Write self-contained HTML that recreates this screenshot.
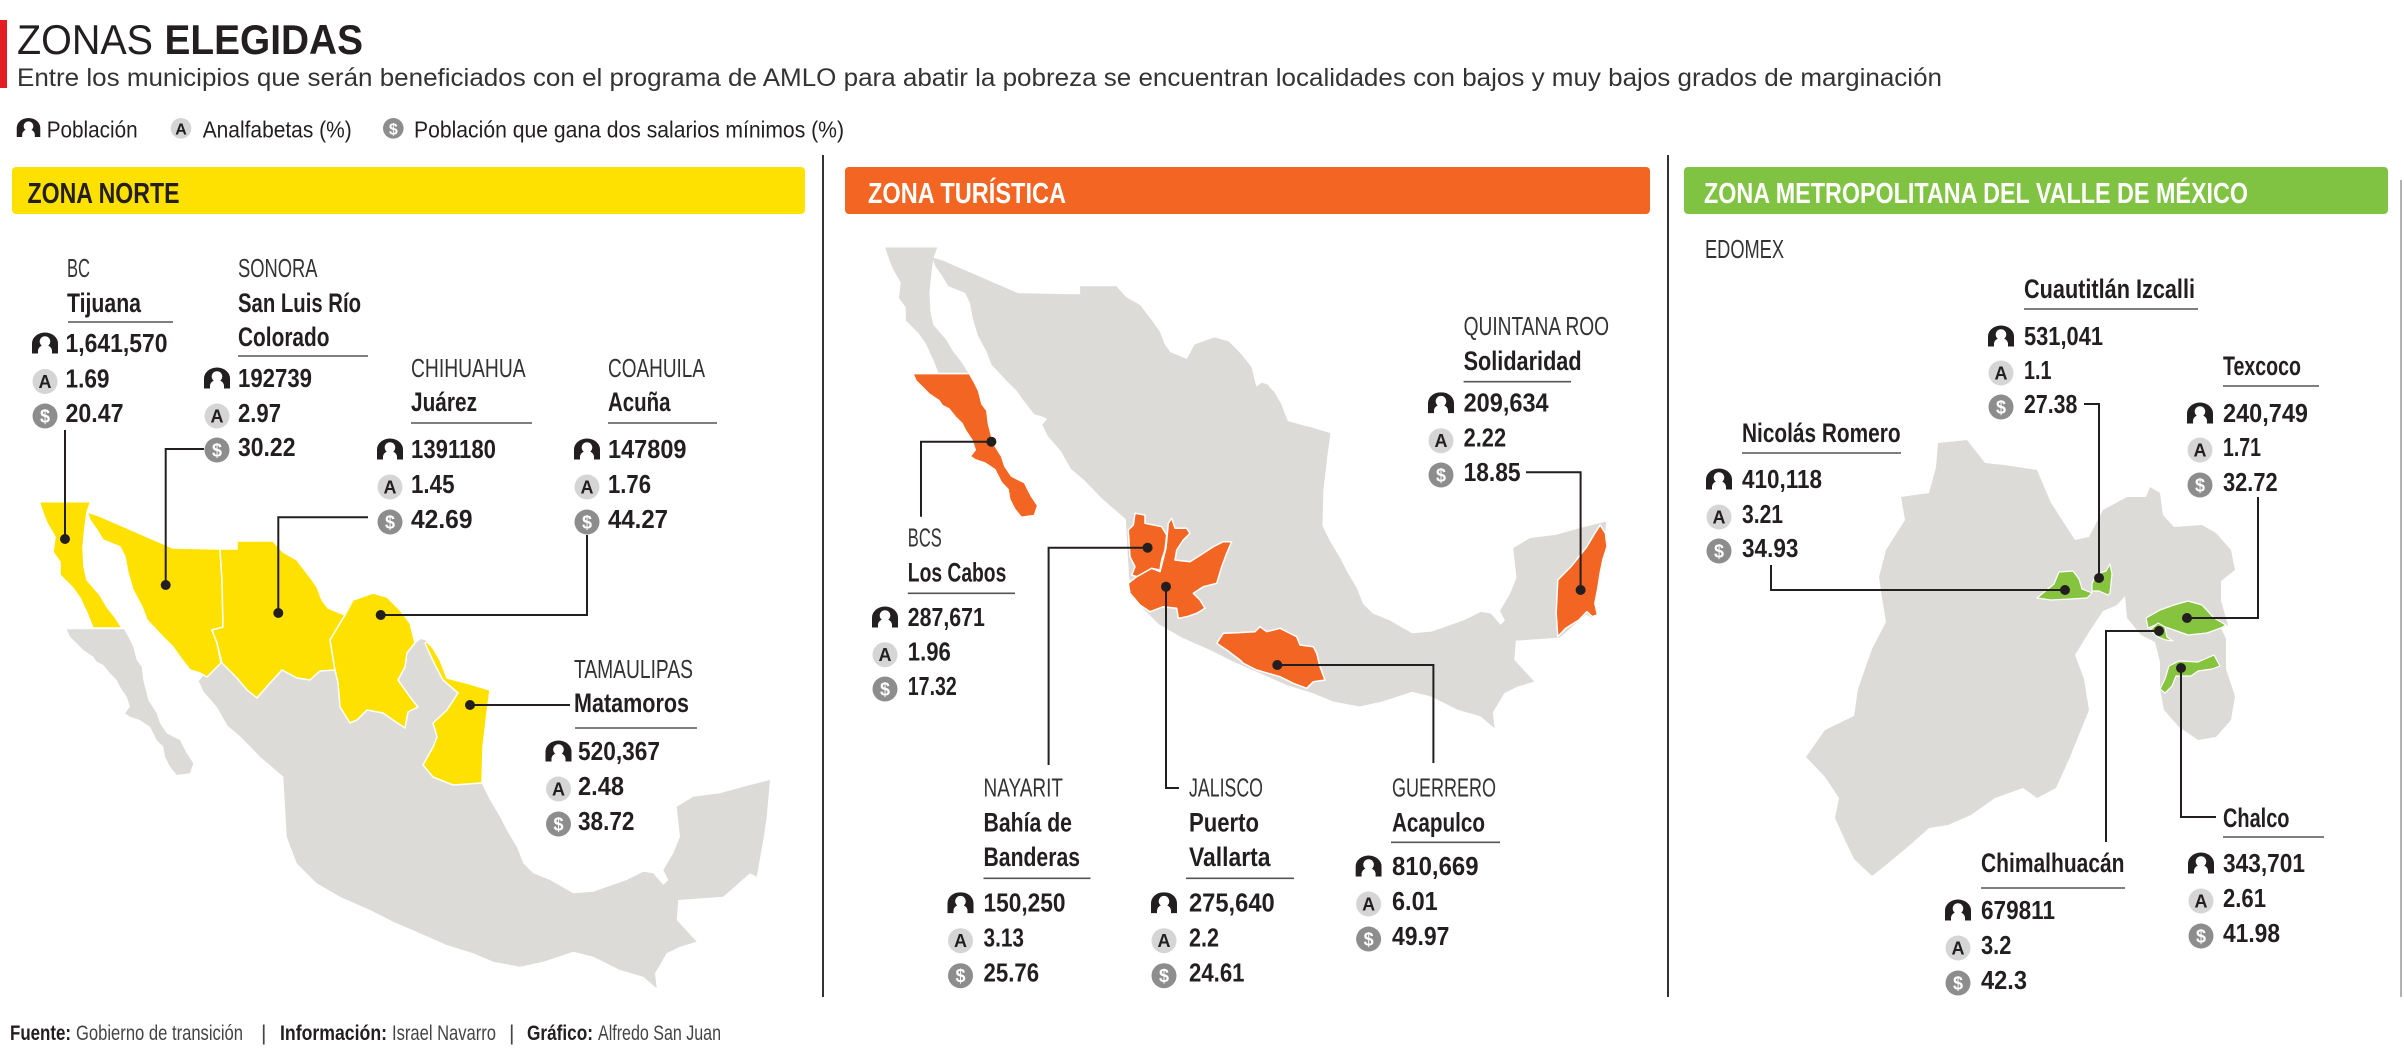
<!DOCTYPE html>
<html><head><meta charset="utf-8">
<style>
html,body{margin:0;padding:0;background:#fff;}
svg{display:block;}
text{font-family:"Liberation Sans",sans-serif;}
.l{font-size:26px;fill:#333;}
.b{font-size:27px;font-weight:bold;fill:#231f20;}
.n{font-size:26px;font-weight:bold;fill:#231f20;}
.ia{font-size:18px;font-weight:bold;fill:#231f20;text-anchor:middle;}
.id{font-size:18px;font-weight:bold;fill:#fff;text-anchor:middle;}
.lg{font-size:23px;fill:#231f20;}
.ft{font-size:21px;fill:#444;}
.ftb{font-size:21px;font-weight:bold;fill:#231f20;}
.hd{font-size:29px;font-weight:bold;}
.ln{stroke:#231f20;stroke-width:2;fill:none;}
.ul{stroke:#555;stroke-width:1.6;}
</style></head>
<body>
<svg width="2404" height="1051" viewBox="0 0 2404 1051" xmlns="http://www.w3.org/2000/svg">
<defs>
<polygon id="ms" points="198.7,681.2 204,692.3 217,707.1 227.5,725.6 240.6,736.8 260,756.7 283.3,776.7 285,806.7 286.7,836.7 296.7,863.3 316.7,883.3 340,896.7 370,910 393.3,921.7 420,933.3 446.7,945 473.3,953.3 493.3,961.7 520,966.7 543.3,961.7 573.3,951.7 593.3,956.7 620,970 643.3,976.7 656.7,988.3 655,973.3 666.7,953.3 680,946.7 696.7,941.7 676.7,920 678.3,900 723.3,896.7 750,873.3 756.7,876.7 763.3,840 766.7,816.7 770,780 743.3,786.7 720,793.3 693.3,796.7 676.7,806.7 680,836.7 673.3,853.3 663.3,870 668.3,880 663.3,885 653.3,873.3 643.3,871.7 626.7,880 593.3,891.7 573.3,893.3 550,880 533.3,873.3 523.3,863.3 516.7,846.7 506.7,830 500,816.7 490,800 481.7,783.3 475,770 470,740 465,700 448,681 438,662 430,647 427,641 421,639 413,645 400,650 370,650 340,650 320,650 260,640 225,650 212,665"/>
<polygon id="bc" points="39.3,501.7 90.7,501.7 87,512 85,527 83,547 84,567 87,580 100,595 107,607 115,617 122,628 93,628 87,613 80,598 72,587 60,575 60,562 53,552 55,537 47,523 43,513"/>
<polygon id="bcs" points="66.7,629.3 124,629.3 128.3,636.7 133.3,646.7 136.7,660 141.7,666.7 143.3,680 146.7,693.3 148.3,700 156.7,713.3 160,723.3 166.7,733.3 173.3,736.7 180,740 183.3,746.7 186.7,753.3 193.3,763.3 190,773.3 176.7,775 170,766.7 165,756.7 163.3,746.7 156.7,740 150,726.7 140,720 130,716.7 125,713.3 130,706.7 126.7,696.7 120,686.7 116.7,680 110,673.3 103.3,665 96.7,661.7 93.3,656.7 83.3,650 76.7,643.3 70,636.7"/>
<polygon id="son" points="87,512 97,515 173,548 220,549 222,580 223,627 212,630 217,643 221,663 207,677 200,673 190,670 180,657 173,647 163,637 147,620 142,607 133,590 128,573 125,557 120,547 103,540 97,530 90,520"/>
<polygon id="chi" points="220,549 237,549 237,541 273,541 283,552 297,560 310,577 317,587 322,600 328,608 345,615 330,640 335,670 320,671 310,680 297,678 282,670 270,683 257,698 247,690 237,678 222,663 217,643 212,630 223,627 222,580"/>
<polygon id="coa" points="345,615 353,600 373,593 387,597 400,610 410,623 415,643 407,653 405,667 398,680 410,697 418,707 408,712 405,728 393,720 383,713 367,710 357,720 350,723 340,707 338,683 335,670 330,640"/>
<polygon id="tam" points="427,642 433,648 440,660 447,678 470,684 490,690 487,713 483,747 482,783 453,785 433,777 423,765 433,747 437,737 433,723 447,710 458,693 443,680 435,665 428,650 425,643"/>
<symbol id="pp" viewBox="0 0 26 21"><path d="M0,21 V11 A13,11 0 0 1 26,11 V21 H20 V18.5 A7,6 0 0 0 6,18.5 V21 Z" fill="#231f20"/><circle cx="13" cy="9" r="5.3" fill="#fff"/></symbol>
</defs>

<!-- Title -->
<rect x="0" y="20" width="7" height="68" fill="#e31e24"/>
<text x="17" y="54" style="font-size:42px;fill:#231f20" textLength="136" lengthAdjust="spacingAndGlyphs">ZONAS</text>
<text x="164.5" y="54" style="font-size:42px;font-weight:bold;fill:#231f20" textLength="198.5" lengthAdjust="spacingAndGlyphs">ELEGIDAS</text>
<text x="17" y="86" style="font-size:25px;fill:#333" textLength="1925" lengthAdjust="spacingAndGlyphs">Entre los municipios que serán beneficiados con el programa de AMLO para abatir la pobreza se encuentran localidades con bajos y muy bajos grados de marginación</text>

<!-- Legend -->
<use href="#pp" x="15" y="118" width="27" height="19"/>
<text class="lg" x="46.7" y="137.7" textLength="91" lengthAdjust="spacingAndGlyphs">Población</text>
<circle cx="181" cy="128.3" r="10.3" fill="#d5d5d5"/><text x="181" y="134.5" style="font-size:16px;font-weight:bold;fill:#231f20;text-anchor:middle">A</text>
<text class="lg" x="202.7" y="137.7" textLength="149" lengthAdjust="spacingAndGlyphs">Analfabetas (%)</text>
<circle cx="393.3" cy="128.3" r="10.3" fill="#8d8d8d"/><text x="393.3" y="134.5" style="font-size:16px;font-weight:bold;fill:#fff;text-anchor:middle">$</text>
<text class="lg" x="414" y="137.7" textLength="430" lengthAdjust="spacingAndGlyphs">Población que gana dos salarios mínimos (%)</text>

<!-- Dividers -->
<line x1="823" y1="155" x2="823" y2="997" stroke="#333" stroke-width="2"/>
<line x1="1668" y1="155" x2="1668" y2="997" stroke="#333" stroke-width="2"/>
<line x1="2401" y1="180" x2="2401" y2="997" stroke="#999" stroke-width="1.5"/>

<!-- Headers -->
<rect x="12" y="167" width="793" height="47" rx="4" fill="#ffe100"/>
<text class="hd" x="27.5" y="203" fill="#231f20" textLength="152" lengthAdjust="spacingAndGlyphs">ZONA NORTE</text>
<rect x="845" y="167" width="805" height="47" rx="4" fill="#f26522"/>
<text class="hd" x="868" y="203" fill="#fff" textLength="198" lengthAdjust="spacingAndGlyphs">ZONA TURÍSTICA</text>
<rect x="1684" y="167" width="704" height="47" rx="4" fill="#80c342"/>
<text class="hd" x="1704" y="203" fill="#fff" textLength="544" lengthAdjust="spacingAndGlyphs">ZONA METROPOLITANA DEL VALLE DE MÉXICO</text>

<!-- ===== Panel 1 map ===== -->
<g fill="#dddbd8"><use href="#ms"/><use href="#bcs"/></g>
<g fill="#ffe100" stroke="#fff" stroke-width="1.5" stroke-linejoin="round">
<use href="#bc"/><use href="#son"/><use href="#chi"/><use href="#coa"/><use href="#tam"/>
</g>

<!-- ===== Panel 2 map ===== -->
<g transform="translate(847.2,-246.2) scale(0.985)">
<g fill="#dddbd8" stroke="#dddbd8" stroke-width="1"><use href="#ms"/><use href="#bc"/><use href="#son"/><use href="#chi"/><use href="#coa"/><use href="#tam"/></g>
<use href="#bcs" fill="#f26522" stroke="#fff" stroke-width="1.5"/>
</g>
<g fill="#f26522" stroke="#fff" stroke-width="1.5" stroke-linejoin="round">
<polygon points="1135,513.3 1145,515 1145,523.3 1161.7,526.7 1166.7,535 1165,550 1161.7,560 1160,570 1151.7,568.3 1146.7,571.7 1136.7,576.7 1131.7,575 1135,566.7 1130,556.7 1128.3,530 1133.3,525"/>
<polygon points="1160,571.7 1163,560 1166,548 1168.3,523.3 1171.7,518.3 1175,528.3 1186.7,528.3 1190,533.3 1183.3,540 1176.7,550 1175,560 1190,561.7 1203.3,553.3 1213.3,546.7 1223.3,541.7 1231.7,541.7 1226.7,553.3 1221.7,566.7 1216.7,583.3 1203.3,586.7 1193.3,593.3 1200,600 1205,608.3 1196.7,613.3 1186.7,616.7 1178.3,618.3 1176.7,608.3 1163.3,606.7 1150,611.7 1140,605 1130,593.3 1128.3,583.3 1136.7,576.7 1151.7,568.3"/>
<polygon points="1216.7,643.3 1223.3,633.3 1236.7,632.7 1255,631.7 1260,626.7 1266.7,631.7 1280,628.3 1296.7,636.7 1300,645 1313.3,646.7 1316.7,653.3 1320,666.7 1325,680 1313.3,681.7 1306.7,688.3 1293.3,683.3 1280,676.7 1256.7,670 1243.3,663.3 1240,660 1226.7,650"/>
</g>
<g transform="translate(830,220) scale(0.5293,0.3333)" fill="#f26522" stroke="#fff" stroke-width="1.5" stroke-linejoin="round">
<polygon vector-effect="non-scaling-stroke" points="1455,915 1465,940 1468,980 1460,1020 1455,1060 1450,1110 1445,1150 1450,1185 1440,1190 1430,1175 1415,1200 1390,1225 1375,1250 1372,1180 1375,1080 1400,1040 1430,980 1445,940"/>
</g>

<!-- ===== Panel 3 map ===== -->
<polygon fill="#dddbd8" points="1938,443 1967,440 1985,463 2004,465 2037,470 2051,503 2075,540 2089,537 2103,510 2127,497 2146,497 2150,487 2160,493 2163,515 2174,527 2202,525 2216,533 2231,550 2235,570 2221,581 2221,601 2228,625 2221,628 2226,639 2226,669 2235,696 2231,720 2216,737 2198,740 2179,727 2164,710 2160,689 2160,662 2155,642 2141,635 2127,618 2125,596 2117,605 2103,611 2089,632 2075,655 2084,679 2089,710 2070,757 2056,788 2037,798 2023,788 1995,798 1971,815 1948,825 1929,828 1910,845 1886,865 1872,876 1854,859 1844,838 1835,818 1839,798 1825,777 1806,757 1825,730 1854,716 1858,689 1872,649 1886,622 1882,598 1879,577 1886,550 1905,520 1901,497 1929,493 1936,467"/>
<g fill="#86c440" stroke="#fff" stroke-width="1.2" stroke-linejoin="round">
<polygon points="2037,598 2054,584 2059,572 2073,571 2079,579 2082,589 2092,593 2087,598 2070,599 2051,600"/>
<polygon points="2092,584 2096,574 2106,571 2110,564 2112,574 2110,593 2108,595 2099,591 2092,591"/>
<polygon points="2146,618 2160,610 2174,605 2188,601 2202,605 2214,618 2226,625 2221,628 2207,633 2188,635 2174,630 2165,627 2155,625 2148,628"/>
<polygon points="2150,630 2158,623 2165,627 2167,637 2173,641 2166,640 2158,637"/>
<polygon points="2160,689 2165,679 2169,666 2179,661 2198,662 2214,655 2220,666 2212,669 2198,671 2191,676 2176,676 2172,686 2165,693"/>
</g>

<!-- ===== Leader lines & dots ===== -->
<g class="ln">
<polyline points="65,430 65,539"/>
<polyline points="204,449 165.7,449 165.7,585"/>
<polyline points="368,517.3 278.3,517.3 278.3,613"/>
<polyline points="587,535 587,615 380.7,615"/>
<polyline points="470,705 570,705"/>
<polyline points="991.4,441.7 921,441.7 921,516.7"/>
<polyline points="1147.6,547.7 1048.6,547.7 1048.6,765"/>
<polyline points="1166,586.7 1166,788 1179,788"/>
<polyline points="1277.3,665 1433.4,665 1433.4,763"/>
<polyline points="1526,472.3 1580.6,472.3 1580.6,590"/>
<polyline points="2084,404 2099,404 2099,578"/>
<polyline points="2258,497 2258,618 2187,618"/>
<polyline points="1771,565 1771,590 2065,590"/>
<polyline points="2159,631 2106,631 2106,842"/>
<polyline points="2181,668 2181,817 2216,817"/>
</g>
<g fill="#231f20">
<circle cx="65" cy="539" r="5"/><circle cx="165.7" cy="585" r="5"/><circle cx="278.3" cy="613" r="5"/><circle cx="380.7" cy="615" r="5"/><circle cx="470" cy="705" r="5"/>
<circle cx="991.4" cy="441.7" r="5"/><circle cx="1147.6" cy="547.7" r="5"/><circle cx="1166" cy="586.7" r="5"/><circle cx="1277.3" cy="665" r="5"/><circle cx="1580.6" cy="590" r="5"/>
<circle cx="2099" cy="578" r="5"/><circle cx="2187" cy="618" r="5"/><circle cx="2065" cy="590" r="5"/><circle cx="2159" cy="631" r="5"/><circle cx="2181" cy="668" r="5"/>
</g>

<!-- ===== Labels Panel 1 ===== -->
<text class="l" x="67" y="277" textLength="23" lengthAdjust="spacingAndGlyphs">BC</text>
<text class="b" x="67" y="312" textLength="74" lengthAdjust="spacingAndGlyphs">Tijuana</text>
<line class="ul" x1="68" y1="322" x2="173" y2="322"/>
<text class="l" x="238" y="277" textLength="79.5" lengthAdjust="spacingAndGlyphs">SONORA</text>
<text class="b" x="238" y="312" textLength="123" lengthAdjust="spacingAndGlyphs">San Luis Río</text>
<text class="b" x="238" y="346" textLength="91.5" lengthAdjust="spacingAndGlyphs">Colorado</text>
<line class="ul" x1="238" y1="356" x2="368" y2="356"/>
<text class="l" x="411" y="377" textLength="114.6" lengthAdjust="spacingAndGlyphs">CHIHUAHUA</text>
<text class="b" x="411" y="411" textLength="66" lengthAdjust="spacingAndGlyphs">Juárez</text>
<line class="ul" x1="411" y1="423" x2="532" y2="423"/>
<text class="l" x="608" y="377" textLength="97" lengthAdjust="spacingAndGlyphs">COAHUILA</text>
<text class="b" x="608" y="411" textLength="62.5" lengthAdjust="spacingAndGlyphs">Acuña</text>
<line class="ul" x1="608" y1="423" x2="717" y2="423"/>
<text class="l" x="574" y="678" textLength="119" lengthAdjust="spacingAndGlyphs">TAMAULIPAS</text>
<text class="b" x="574" y="712" textLength="115" lengthAdjust="spacingAndGlyphs">Matamoros</text>
<line class="ul" x1="575" y1="728" x2="697" y2="728"/>

<!-- ===== Labels Panel 2 ===== -->
<text class="l" x="1463.6" y="335" textLength="145.5" lengthAdjust="spacingAndGlyphs">QUINTANA ROO</text>
<text class="b" x="1463.6" y="370" textLength="118" lengthAdjust="spacingAndGlyphs">Solidaridad</text>
<line class="ul" x1="1463.6" y1="381.7" x2="1571" y2="381.7"/>
<text class="l" x="907.8" y="546.7" textLength="34" lengthAdjust="spacingAndGlyphs">BCS</text>
<text class="b" x="907.8" y="581.7" textLength="98.5" lengthAdjust="spacingAndGlyphs">Los Cabos</text>
<line class="ul" x1="907.8" y1="593.3" x2="1015" y2="593.3"/>
<text class="l" x="983.5" y="796.7" textLength="79.5" lengthAdjust="spacingAndGlyphs">NAYARIT</text>
<text class="b" x="983.5" y="831.7" textLength="88.5" lengthAdjust="spacingAndGlyphs">Bahía de</text>
<text class="b" x="983.5" y="866" textLength="96.5" lengthAdjust="spacingAndGlyphs">Banderas</text>
<line class="ul" x1="983.5" y1="878.3" x2="1090.5" y2="878.3"/>
<text class="l" x="1189" y="796.7" textLength="74" lengthAdjust="spacingAndGlyphs">JALISCO</text>
<text class="b" x="1189" y="831.7" textLength="70" lengthAdjust="spacingAndGlyphs">Puerto</text>
<text class="b" x="1189" y="866" textLength="81.5" lengthAdjust="spacingAndGlyphs">Vallarta</text>
<line class="ul" x1="1186" y1="878.3" x2="1294" y2="878.3"/>
<text class="l" x="1392" y="796.7" textLength="104" lengthAdjust="spacingAndGlyphs">GUERRERO</text>
<text class="b" x="1392" y="831.7" textLength="93" lengthAdjust="spacingAndGlyphs">Acapulco</text>
<line class="ul" x1="1391" y1="842.3" x2="1500" y2="842.3"/>

<!-- ===== Labels Panel 3 ===== -->
<text class="l" x="1705" y="258" textLength="79" lengthAdjust="spacingAndGlyphs">EDOMEX</text>
<text class="b" x="2024" y="298" textLength="171" lengthAdjust="spacingAndGlyphs">Cuautitlán Izcalli</text>
<line class="ul" x1="2024" y1="309" x2="2198" y2="309"/>
<text class="b" x="2223" y="375" textLength="78" lengthAdjust="spacingAndGlyphs">Texcoco</text>
<line class="ul" x1="2223" y1="386" x2="2319" y2="386"/>
<text class="b" x="1742" y="442" textLength="158.6" lengthAdjust="spacingAndGlyphs">Nicolás Romero</text>
<line class="ul" x1="1742" y1="453" x2="1901" y2="453"/>
<text class="b" x="1981" y="872" textLength="143.5" lengthAdjust="spacingAndGlyphs">Chimalhuacán</text>
<line class="ul" x1="1981" y1="888" x2="2125" y2="888"/>
<text class="b" x="2223" y="827" textLength="66.5" lengthAdjust="spacingAndGlyphs">Chalco</text>
<line class="ul" x1="2223" y1="837" x2="2324" y2="837"/>

<!-- ===== Data blocks ===== -->
<!-- Tijuana -->
<use href="#pp" x="32" y="332.5" width="26" height="21"/>
<text class="n" x="65.5" y="352" textLength="102" lengthAdjust="spacingAndGlyphs">1,641,570</text>
<circle cx="45" cy="381.5" r="12.5" fill="#d5d5d5"/><text class="ia" x="45" y="388">A</text>
<text class="n" x="65.5" y="387.5" textLength="44" lengthAdjust="spacingAndGlyphs">1.69</text>
<circle cx="45" cy="416" r="12.5" fill="#8d8d8d"/><text class="id" x="45" y="422.5">$</text>
<text class="n" x="65.5" y="422" textLength="58" lengthAdjust="spacingAndGlyphs">20.47</text>
<!-- SLR Colorado -->
<use href="#pp" x="204" y="367.5" width="26" height="21"/>
<text class="n" x="238" y="387" textLength="74" lengthAdjust="spacingAndGlyphs">192739</text>
<circle cx="217" cy="416" r="12.5" fill="#d5d5d5"/><text class="ia" x="217" y="422.5">A</text>
<text class="n" x="238" y="422" textLength="43" lengthAdjust="spacingAndGlyphs">2.97</text>
<circle cx="217" cy="450" r="12.5" fill="#8d8d8d"/><text class="id" x="217" y="456.5">$</text>
<text class="n" x="238" y="456" textLength="57.5" lengthAdjust="spacingAndGlyphs">30.22</text>
<!-- Juarez -->
<use href="#pp" x="377" y="438.5" width="26" height="21"/>
<text class="n" x="411" y="458" textLength="85" lengthAdjust="spacingAndGlyphs">1391180</text>
<circle cx="390" cy="487" r="12.5" fill="#d5d5d5"/><text class="ia" x="390" y="493.5">A</text>
<text class="n" x="411" y="493" textLength="43.5" lengthAdjust="spacingAndGlyphs">1.45</text>
<circle cx="390" cy="522" r="12.5" fill="#8d8d8d"/><text class="id" x="390" y="528.5">$</text>
<text class="n" x="411" y="528" textLength="61.5" lengthAdjust="spacingAndGlyphs">42.69</text>
<!-- Acuna -->
<use href="#pp" x="574" y="438.5" width="26" height="21"/>
<text class="n" x="608" y="458" textLength="78.5" lengthAdjust="spacingAndGlyphs">147809</text>
<circle cx="587" cy="487" r="12.5" fill="#d5d5d5"/><text class="ia" x="587" y="493.5">A</text>
<text class="n" x="608" y="493" textLength="43" lengthAdjust="spacingAndGlyphs">1.76</text>
<circle cx="587" cy="522" r="12.5" fill="#8d8d8d"/><text class="id" x="587" y="528.5">$</text>
<text class="n" x="608" y="528" textLength="60" lengthAdjust="spacingAndGlyphs">44.27</text>
<!-- Matamoros -->
<use href="#pp" x="545.5" y="740.5" width="26" height="21"/>
<text class="n" x="578" y="760" textLength="82" lengthAdjust="spacingAndGlyphs">520,367</text>
<circle cx="558.5" cy="789" r="12.5" fill="#d5d5d5"/><text class="ia" x="558.5" y="795.5">A</text>
<text class="n" x="578" y="795" textLength="46" lengthAdjust="spacingAndGlyphs">2.48</text>
<circle cx="558.5" cy="824" r="12.5" fill="#8d8d8d"/><text class="id" x="558.5" y="830.5">$</text>
<text class="n" x="578" y="830" textLength="56.5" lengthAdjust="spacingAndGlyphs">38.72</text>

<!-- Solidaridad -->
<use href="#pp" x="1428" y="392.2" width="26" height="21"/>
<text class="n" x="1463.6" y="411.7" textLength="85" lengthAdjust="spacingAndGlyphs">209,634</text>
<circle cx="1441" cy="440.7" r="12.5" fill="#d5d5d5"/><text class="ia" x="1441" y="447.2">A</text>
<text class="n" x="1463.6" y="446.7" textLength="42.5" lengthAdjust="spacingAndGlyphs">2.22</text>
<circle cx="1441" cy="475" r="12.5" fill="#8d8d8d"/><text class="id" x="1441" y="481.5">$</text>
<text class="n" x="1463.6" y="481" textLength="57" lengthAdjust="spacingAndGlyphs">18.85</text>
<!-- Los Cabos -->
<use href="#pp" x="872" y="606.5" width="26" height="21"/>
<text class="n" x="907.8" y="626" textLength="77" lengthAdjust="spacingAndGlyphs">287,671</text>
<circle cx="885" cy="654.7" r="12.5" fill="#d5d5d5"/><text class="ia" x="885" y="661.2">A</text>
<text class="n" x="907.8" y="660.7" textLength="43" lengthAdjust="spacingAndGlyphs">1.96</text>
<circle cx="885" cy="689" r="12.5" fill="#8d8d8d"/><text class="id" x="885" y="695.5">$</text>
<text class="n" x="907.8" y="695" textLength="49" lengthAdjust="spacingAndGlyphs">17.32</text>
<!-- Bahia de Banderas -->
<use href="#pp" x="947.5" y="892.2" width="26" height="21"/>
<text class="n" x="983.5" y="911.7" textLength="82" lengthAdjust="spacingAndGlyphs">150,250</text>
<circle cx="960.5" cy="940.7" r="12.5" fill="#d5d5d5"/><text class="ia" x="960.5" y="947.2">A</text>
<text class="n" x="983.5" y="946.7" textLength="40.5" lengthAdjust="spacingAndGlyphs">3.13</text>
<circle cx="960.5" cy="975.7" r="12.5" fill="#8d8d8d"/><text class="id" x="960.5" y="982.2">$</text>
<text class="n" x="983.5" y="981.7" textLength="55.6" lengthAdjust="spacingAndGlyphs">25.76</text>
<!-- Puerto Vallarta -->
<use href="#pp" x="1151" y="892.2" width="26" height="21"/>
<text class="n" x="1189" y="911.7" textLength="85.7" lengthAdjust="spacingAndGlyphs">275,640</text>
<circle cx="1164" cy="940.7" r="12.5" fill="#d5d5d5"/><text class="ia" x="1164" y="947.2">A</text>
<text class="n" x="1189" y="946.7" textLength="30" lengthAdjust="spacingAndGlyphs">2.2</text>
<circle cx="1164" cy="975.7" r="12.5" fill="#8d8d8d"/><text class="id" x="1164" y="982.2">$</text>
<text class="n" x="1189" y="981.7" textLength="55.5" lengthAdjust="spacingAndGlyphs">24.61</text>
<!-- Acapulco -->
<use href="#pp" x="1355.6" y="855.5" width="26" height="21"/>
<text class="n" x="1392" y="875" textLength="86.5" lengthAdjust="spacingAndGlyphs">810,669</text>
<circle cx="1368.6" cy="904" r="12.5" fill="#d5d5d5"/><text class="ia" x="1368.6" y="910.5">A</text>
<text class="n" x="1392" y="910" textLength="45.7" lengthAdjust="spacingAndGlyphs">6.01</text>
<circle cx="1368.6" cy="939" r="12.5" fill="#8d8d8d"/><text class="id" x="1368.6" y="945.5">$</text>
<text class="n" x="1392" y="945" textLength="57.4" lengthAdjust="spacingAndGlyphs">49.97</text>

<!-- Cuautitlan -->
<use href="#pp" x="1988" y="325.5" width="26" height="21"/>
<text class="n" x="2024" y="345" textLength="79" lengthAdjust="spacingAndGlyphs">531,041</text>
<circle cx="2001" cy="373" r="12.5" fill="#d5d5d5"/><text class="ia" x="2001" y="379.5">A</text>
<text class="n" x="2024" y="379" textLength="27.5" lengthAdjust="spacingAndGlyphs">1.1</text>
<circle cx="2001" cy="407" r="12.5" fill="#8d8d8d"/><text class="id" x="2001" y="413.5">$</text>
<text class="n" x="2024" y="413" textLength="53.4" lengthAdjust="spacingAndGlyphs">27.38</text>
<!-- Texcoco -->
<use href="#pp" x="2187" y="402.5" width="26" height="21"/>
<text class="n" x="2223" y="422" textLength="85" lengthAdjust="spacingAndGlyphs">240,749</text>
<circle cx="2200" cy="450" r="12.5" fill="#d5d5d5"/><text class="ia" x="2200" y="456.5">A</text>
<text class="n" x="2223" y="456" textLength="38" lengthAdjust="spacingAndGlyphs">1.71</text>
<circle cx="2200" cy="485" r="12.5" fill="#8d8d8d"/><text class="id" x="2200" y="491.5">$</text>
<text class="n" x="2223" y="491" textLength="54.7" lengthAdjust="spacingAndGlyphs">32.72</text>
<!-- Nicolas Romero -->
<use href="#pp" x="1706" y="468.5" width="26" height="21"/>
<text class="n" x="1742" y="488" textLength="80" lengthAdjust="spacingAndGlyphs">410,118</text>
<circle cx="1719" cy="517" r="12.5" fill="#d5d5d5"/><text class="ia" x="1719" y="523.5">A</text>
<text class="n" x="1742" y="523" textLength="41" lengthAdjust="spacingAndGlyphs">3.21</text>
<circle cx="1719" cy="551" r="12.5" fill="#8d8d8d"/><text class="id" x="1719" y="557.5">$</text>
<text class="n" x="1742" y="557" textLength="56.4" lengthAdjust="spacingAndGlyphs">34.93</text>
<!-- Chimalhuacan -->
<use href="#pp" x="1945" y="899.5" width="26" height="21"/>
<text class="n" x="1981" y="919" textLength="74" lengthAdjust="spacingAndGlyphs">679811</text>
<circle cx="1958" cy="948" r="12.5" fill="#d5d5d5"/><text class="ia" x="1958" y="954.5">A</text>
<text class="n" x="1981" y="954" textLength="30.4" lengthAdjust="spacingAndGlyphs">3.2</text>
<circle cx="1958" cy="983" r="12.5" fill="#8d8d8d"/><text class="id" x="1958" y="989.5">$</text>
<text class="n" x="1981" y="989" textLength="46" lengthAdjust="spacingAndGlyphs">42.3</text>
<!-- Chalco -->
<use href="#pp" x="2188" y="852.5" width="26" height="21"/>
<text class="n" x="2223" y="872" textLength="82" lengthAdjust="spacingAndGlyphs">343,701</text>
<circle cx="2201" cy="901" r="12.5" fill="#d5d5d5"/><text class="ia" x="2201" y="907.5">A</text>
<text class="n" x="2223" y="907" textLength="43" lengthAdjust="spacingAndGlyphs">2.61</text>
<circle cx="2201" cy="936" r="12.5" fill="#8d8d8d"/><text class="id" x="2201" y="942.5">$</text>
<text class="n" x="2223" y="942" textLength="57" lengthAdjust="spacingAndGlyphs">41.98</text>

<!-- Footer -->
<text class="ftb" x="10" y="1040" textLength="61" lengthAdjust="spacingAndGlyphs">Fuente:</text>
<text class="ft" x="76" y="1040" textLength="167" lengthAdjust="spacingAndGlyphs">Gobierno de transición</text>
<text class="ft" x="261" y="1040">|</text>
<text class="ftb" x="280" y="1040" textLength="107" lengthAdjust="spacingAndGlyphs">Información:</text>
<text class="ft" x="392" y="1040" textLength="104" lengthAdjust="spacingAndGlyphs">Israel Navarro</text>
<text class="ft" x="509" y="1040">|</text>
<text class="ftb" x="527" y="1040" textLength="66" lengthAdjust="spacingAndGlyphs">Gráfico:</text>
<text class="ft" x="598" y="1040" textLength="123" lengthAdjust="spacingAndGlyphs">Alfredo San Juan</text>
</svg>
</body></html>
